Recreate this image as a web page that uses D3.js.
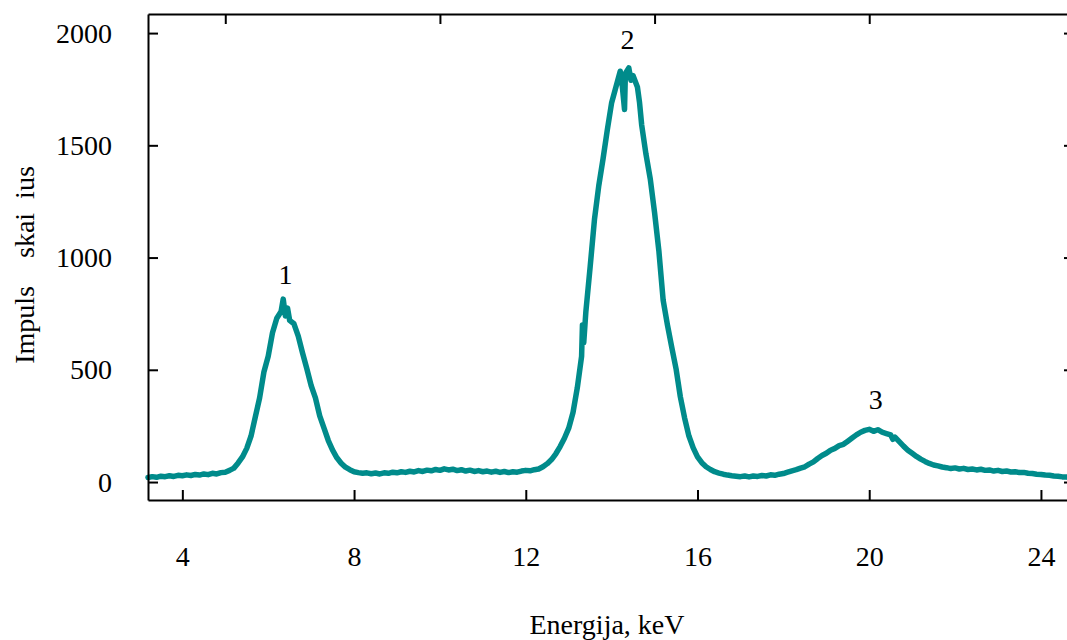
<!DOCTYPE html>
<html>
<head>
<meta charset="utf-8">
<script src="https://cdn.jsdelivr.net/npm/d3@7"></script>
<style>
  html, body { margin: 0; padding: 0; background: #fff; }
  svg { display: block; }
</style>
</head>
<body>
<svg id="chart"></svg>
<script>
// Spectrum channels (keV / counts)
const ENERGY_KEV = [
  3.2, 3.3, 3.4, 3.5, 3.6, 3.7, 3.8, 3.9, 4.0, 4.1, 4.2, 4.3, 4.4, 4.5, 4.6, 4.7, 4.8, 4.9,
  5.0, 5.1, 5.2, 5.3, 5.4, 5.5, 5.6, 5.7, 5.8, 5.9, 6.0, 6.1, 6.2, 6.3, 6.35, 6.4, 6.45, 6.5,
  6.6, 6.7, 6.8, 6.9, 7.0, 7.1, 7.2, 7.3, 7.4, 7.5, 7.6, 7.7, 7.8, 7.9, 8.0, 8.1, 8.2, 8.3,
  8.4, 8.5, 8.6, 8.7, 8.8, 8.9, 9.0, 9.1, 9.2, 9.3, 9.4, 9.5, 9.6, 9.7, 9.8, 9.9, 10.0, 10.1,
  10.2, 10.3, 10.4, 10.5, 10.6, 10.7, 10.8, 10.9, 11.0, 11.1, 11.2, 11.3, 11.4, 11.5, 11.6,
  11.7, 11.8, 11.9, 12.0, 12.1, 12.2, 12.3, 12.4, 12.5, 12.6, 12.7, 12.8, 12.9, 13.0, 13.1,
  13.2, 13.3, 13.32, 13.35, 13.4, 13.5, 13.6, 13.7, 13.8, 13.9, 14.0, 14.1, 14.2, 14.25, 14.3,
  14.32, 14.4, 14.45, 14.5, 14.6, 14.65, 14.7, 14.8, 14.9, 15.0, 15.1, 15.2, 15.3, 15.4, 15.5,
  15.6, 15.7, 15.8, 15.9, 16.0, 16.1, 16.2, 16.3, 16.4, 16.5, 16.6, 16.7, 16.8, 16.9, 17.0,
  17.1, 17.2, 17.3, 17.4, 17.5, 17.6, 17.7, 17.8, 17.9, 18.0, 18.1, 18.2, 18.3, 18.4, 18.5,
  18.6, 18.7, 18.8, 18.9, 19.0, 19.1, 19.2, 19.3, 19.4, 19.5, 19.6, 19.7, 19.8, 19.9, 20.0,
  20.1, 20.2, 20.3, 20.4, 20.5, 20.55, 20.6, 20.7, 20.8, 20.9, 21.0, 21.1, 21.2, 21.3, 21.4,
  21.5, 21.6, 21.7, 21.8, 21.9, 22.0, 22.1, 22.2, 22.3, 22.4, 22.5, 22.6, 22.7, 22.8, 22.9,
  23.0, 23.1, 23.2, 23.3, 23.4, 23.5, 23.6, 23.7, 23.8, 23.9, 24.0, 24.1, 24.2, 24.3, 24.4,
  24.5, 24.6, 24.7, 24.77,
];

const COUNTS = [
  20, 24, 21, 26, 24, 28, 25, 30, 28, 32, 29, 34, 31, 36, 33, 39, 36, 42,
  44, 52, 62, 85, 112, 150, 205, 290, 375, 490, 560, 665, 730, 760, 815, 740, 775, 720,
  705, 650, 575, 505, 430, 375, 295, 240, 185, 142, 108, 84, 66, 55, 46, 42, 39, 41,
  37, 40, 36, 41, 39, 44, 41, 46, 43, 48, 45, 51, 47, 53, 50, 56, 52, 59,
  54, 57, 51, 55, 49, 53, 47, 51, 46, 49, 44, 48, 43, 47, 42,
  46, 44, 49, 52, 50, 55, 58, 68, 82, 100, 126, 158, 195, 240, 310,
  420, 560, 700, 620, 760, 960, 1170, 1320, 1440, 1570, 1690, 1760, 1830, 1760, 1660,
  1820, 1845, 1790, 1810, 1760, 1690, 1590, 1460, 1350, 1200, 1030, 810, 700, 600, 505,
  380, 285, 205, 152, 112, 86, 68, 56, 46, 40, 35, 31, 28, 26, 24,
  27, 23, 27, 25, 29, 27, 32, 30, 35, 38, 44, 50, 55, 62, 68,
  80, 90, 105, 118, 128, 142, 150, 162, 168, 182, 196, 210, 222, 230, 235,
  226, 233, 222, 216, 210, 190, 200, 180, 160, 142, 128, 114, 102, 92, 83,
  76, 72, 67, 64, 60, 63, 58, 61, 56, 58, 54, 57, 52, 54, 49,
  52, 47, 49, 45, 46, 42, 43, 39, 38, 35, 34, 31, 30, 27, 26,
  23, 22, 20, 19,
];

const X_TICKS = [4, 8, 12, 16, 20, 24];
const X_TICKS_TOP = [5, 10, 15, 20];
const Y_TICKS = [0, 500, 1000, 1500, 2000];

// Peak numbers and where they sit (keV, counts)
const PEAK_NAMES = ["1", "2", "3"];
const PEAK_E = [6.4, 14.37, 20.15];
const PEAK_Y = [880, 1928, 325];

const LINE_COLOR = "#008b8b";
const FONT = "'Liberation Serif', 'Times New Roman', serif";

const width = 1067;
const height = 640;
const plot = { left: 148, right: 1074, top: 14, bottom: 500 };

const svg = d3.select("#chart").attr("width", width).attr("height", height);

const x = d3.scaleLinear().domain([3.2, 24.77]).range([plot.left, plot.right]);
const y = d3.scaleLinear().domain([-80, 2085]).range([plot.bottom, plot.top]);

const styleAxis = (a) => {
  a.attr("font-family", FONT).attr("font-size", 28);
  a.select(".domain").attr("stroke", "#000").attr("stroke-width", 2);
  a.selectAll(".tick line").attr("stroke", "#000").attr("stroke-width", 2);
  a.selectAll("text").attr("fill", "#000");
};

// Spectrum line
const line = d3
  .line()
  .x((d, i) => x(ENERGY_KEV[i]))
  .y((d) => y(d));

svg
  .append("path")
  .datum(COUNTS)
  .attr("d", line)
  .attr("fill", "none")
  .attr("stroke", LINE_COLOR)
  .attr("stroke-width", 5.5)
  .attr("stroke-linejoin", "round")
  .attr("stroke-linecap", "round");

// Bottom axis (labelled)
svg
  .append("g")
  .attr("transform", `translate(0,${plot.bottom})`)
  .call(
    d3.axisBottom(x)
      .tickValues(X_TICKS)
      .tickFormat(d3.format("d"))
      .tickSizeInner(-10)
      .tickSizeOuter(0)
      .tickPadding(46),
  )
  .call(styleAxis);

// Top border with unlabelled ticks
svg
  .append("g")
  .attr("transform", `translate(0,${plot.top})`)
  .call(
    d3.axisTop(x).tickValues(X_TICKS_TOP).tickSizeInner(-10).tickSizeOuter(0).tickFormat(""),
  )
  .call(styleAxis);

// Left axis (labelled)
svg
  .append("g")
  .attr("transform", `translate(${plot.left},0)`)
  .call(
    d3.axisLeft(y)
      .tickValues(Y_TICKS)
      .tickFormat(d3.format("d"))
      .tickSizeInner(-10)
      .tickSizeOuter(0)
      .tickPadding(36),
  )
  .call(styleAxis);

// Right border, mirrored ticks
svg
  .append("g")
  .attr("transform", `translate(${plot.right},0)`)
  .call(
    d3.axisRight(y).tickValues(Y_TICKS).tickSizeInner(-10).tickSizeOuter(0).tickFormat(""),
  )
  .call(styleAxis);

// Peak numbers
svg
  .append("g")
  .selectAll("text")
  .data(PEAK_NAMES)
  .join("text")
  .attr("x", (d, i) => x(PEAK_E[i]))
  .attr("y", (d, i) => y(PEAK_Y[i]))
  .attr("text-anchor", "middle")
  .attr("font-family", FONT)
  .attr("font-size", 28)
  .attr("fill", "#000")
  .text((d) => d);

// Axis titles
svg
  .append("text")
  .attr("x", 607)
  .attr("y", 634)
  .attr("text-anchor", "middle")
  .attr("font-family", FONT)
  .attr("font-size", 28)
  .attr("fill", "#000")
  .text("Energija, keV");

svg
  .append("text")
  .attr("transform", "translate(34,265) rotate(-90)")
  .attr("text-anchor", "middle")
  .attr("font-family", FONT)
  .attr("font-size", 28)
  .attr("fill", "#000")
  .text("Impuls\u2003skai\u2002ius");
</script>
</body>
</html>
